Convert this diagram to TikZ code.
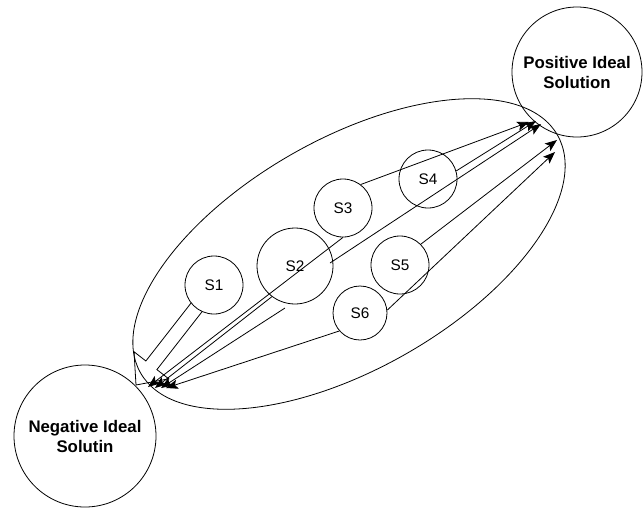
\documentclass[tikz,border=0pt]{standalone}
\usepackage{fontspec}
\setmainfont{Liberation Sans}
\usetikzlibrary{arrows.meta, calc}

\begin{document}
\begin{tikzpicture}[x=0.75pt, y=-0.75pt,
          sol/.style={draw, circle, inner sep=0pt, line width=0.6pt,
              font=\fontsize{12.6}{15}\selectfont\bfseries, align=center},
          alt/.style={draw, circle, inner sep=0pt, line width=0.6pt,
              font=\fontsize{11.5}{13}\selectfont},
          arr/.style={-{Stealth[length=9pt, width=7pt, inset=2pt]}, line width=0.6pt}
        ]
        \useasboundingbox (0,0) rectangle (643,508);
        \node[sol, minimum size=97.5pt]  (pis) at (577,72)  {Positive Ideal\\Solution};
        \node[sol, minimum size=106.5pt] (nis) at (85,436)  {Negative Ideal\\Solutin};
        \node[alt, minimum size=43.5pt]  (s1)  at (214,285) {S1};
        \node[alt, minimum size=57pt]    (s2)  at (295,266) {S2};
        \node[alt, minimum size=43.5pt]  (s3)  at (343,208) {S3};
        \node[alt, minimum size=43.5pt]  (s4)  at (428,179) {S4};
        \node[alt, minimum size=43.5pt]  (s5)  at (400,265) {S5};
        \node[alt, minimum size=40.5pt]  (s6)  at (360,313) {S6};
        \draw[line width=0.6pt, rotate around={29.7:(349,254)}]
        (349,254) ellipse [x radius=240, y radius=115];
        \coordinate (tip)  at (136,385);
        \coordinate (hb)   at ($(tip)!18.75pt!(s1)$);
        \coordinate (sb)   at ($(s1)!21pt!(tip)$);
        \draw[line width=0.6pt] ($(sb)!5.25pt!-90:(tip)$) -- ($(hb)!5.25pt!90:(s1)$)
        -- ($(hb)!16.5pt!90:(s1)$) -- (tip) -- ($(hb)!16.5pt!-90:(s1)$)
        -- ($(hb)!5.25pt!-90:(s1)$) -- ($(sb)!5.25pt!90:(tip)$);
        \coordinate (s2in) at (330,263);
        \coordinate (c8)   at (285,308);
        \coordinate (pisA) at (529,122);
        \coordinate (pisB) at (541,124);
        \coordinate (pisC) at (536,121);
        \coordinate (pisD) at (557,140);
        \coordinate (pisE) at (555,152);
        \coordinate (nisA) at (148,387);
        \coordinate (nisB) at (155,388);
        \coordinate (nisC) at (161,388);
        \coordinate (nisD) at (166,388);
        \draw[arr] (s3.53)    -- (pisA);
        \draw[arr] (s2in)     -- (pisB);
        \draw[arr] (s4.16)    -- (pisC);
        \draw[arr] (s5.45)    -- (pisD);
        \draw[arr] (s6.6)     -- (pisE);
        \draw[arr] (s3.south) -- (nisA);
        \draw[arr] (s2.233)   -- (nisB);
        \draw[arr] (c8)       -- (nisC);
        \draw[arr] (s6.221)   -- (nisD);
      \end{tikzpicture}
\end{document}
